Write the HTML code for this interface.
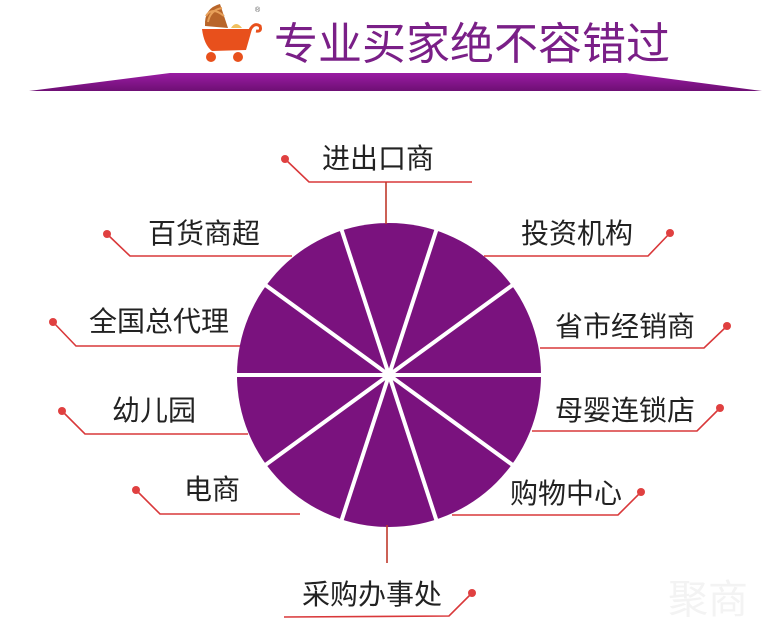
<!DOCTYPE html>
<html><head><meta charset="utf-8"><style>
html,body{margin:0;padding:0;background:#fff;width:773px;height:624px;overflow:hidden}
text{font-family:"Liberation Sans","Noto Sans CJK SC",sans-serif}
</style></head><body>
<svg width="773" height="624" viewBox="0 0 773 624" xmlns="http://www.w3.org/2000/svg">
<defs>
<linearGradient id="bg" x1="0" y1="0" x2="0" y2="1">
<stop offset="0" stop-color="#9a1ca3"/><stop offset="1" stop-color="#6e0f74"/>
</linearGradient>
</defs>
<path d="M205 26 Q204 8 220 4 L228 28 Z" fill="#b8652a"/>
<path d="M208 22 Q210 10 222 8 M206 16 Q212 6 224 16" stroke="#e7a05a" stroke-width="2" fill="none"/>
<path d="M231 28 Q236 20 242 28 Z" fill="#f0c060"/>
<path d="M202 29 L252 29 L246 50 L212 51 Q204 45 202 29 Z" fill="#e8501c"/>
<path d="M250 30 Q254 22 260 26 Q262 32 256 31" stroke="#e8501c" stroke-width="3" fill="none"/>
<circle cx="211" cy="57" r="5" fill="#e8501c"/><circle cx="238" cy="57" r="5" fill="#e8501c"/>
<text x="255" y="12" font-size="7" fill="#555">®</text>
<text x="274" y="59" font-size="44" fill="#7a1f87">专业买家绝不容错过</text>
<polygon points="170,73 626,73 762,91 29,91" fill="url(#bg)"/>
<circle cx="389" cy="375" r="152" fill="#7a127e"/>
<g stroke="#fff" stroke-width="4">
<line x1="235" y1="375" x2="543" y2="375"/>
<line x1="264" y1="284" x2="514" y2="466"/>
<line x1="264" y1="466" x2="514" y2="284"/>
<line x1="341" y1="228" x2="437" y2="522"/>
<line x1="437" y1="228" x2="341" y2="522"/>
</g>
<g stroke="#d9383a" stroke-width="1.6" fill="none">
<polyline points="285,159 309,182 472,182"/>
<line x1="386" y1="182" x2="386" y2="224" stroke="#c0392b"/>
<polyline points="107,234 130,256 292,256"/>
<polyline points="53,322 76,346 240,346"/>
<polyline points="62,411 85,434 248,434"/>
<polyline points="136,490 160,514 300,514"/>
<polyline points="670,233 648,256 484,256"/>
<polyline points="727,326 704,348 540,348"/>
<polyline points="720,408 697,431 532,431"/>
<polyline points="641,492 618,515 452,515"/>
<line x1="387" y1="525" x2="387" y2="563" stroke="#c0392b"/>
<polyline points="472,593 449,616 284,617"/>
</g>
<g fill="#e04040">
<circle cx="285" cy="159" r="4"/><circle cx="107" cy="234" r="4"/><circle cx="53" cy="322" r="4"/>
<circle cx="62" cy="411" r="4"/><circle cx="136" cy="490" r="4"/><circle cx="670" cy="233" r="4"/>
<circle cx="727" cy="326" r="4"/><circle cx="720" cy="408" r="4"/><circle cx="641" cy="492" r="4"/>
<circle cx="472" cy="593" r="4"/>
</g>
<g font-size="28" fill="#222">
<text x="322" y="168">进出口商</text>
<text x="148" y="243">百货商超</text>
<text x="89" y="331">全国总代理</text>
<text x="112" y="420">幼儿园</text>
<text x="184" y="499">电商</text>
<text x="521" y="243">投资机构</text>
<text x="555" y="336">省市经销商</text>
<text x="555" y="420">母婴连锁店</text>
<text x="510" y="503">购物中心</text>
<text x="302" y="604">采购办事处</text>
</g>
<text x="668" y="613" font-size="40" fill="#f3f3f3">聚商</text>
</svg>
</body></html>
